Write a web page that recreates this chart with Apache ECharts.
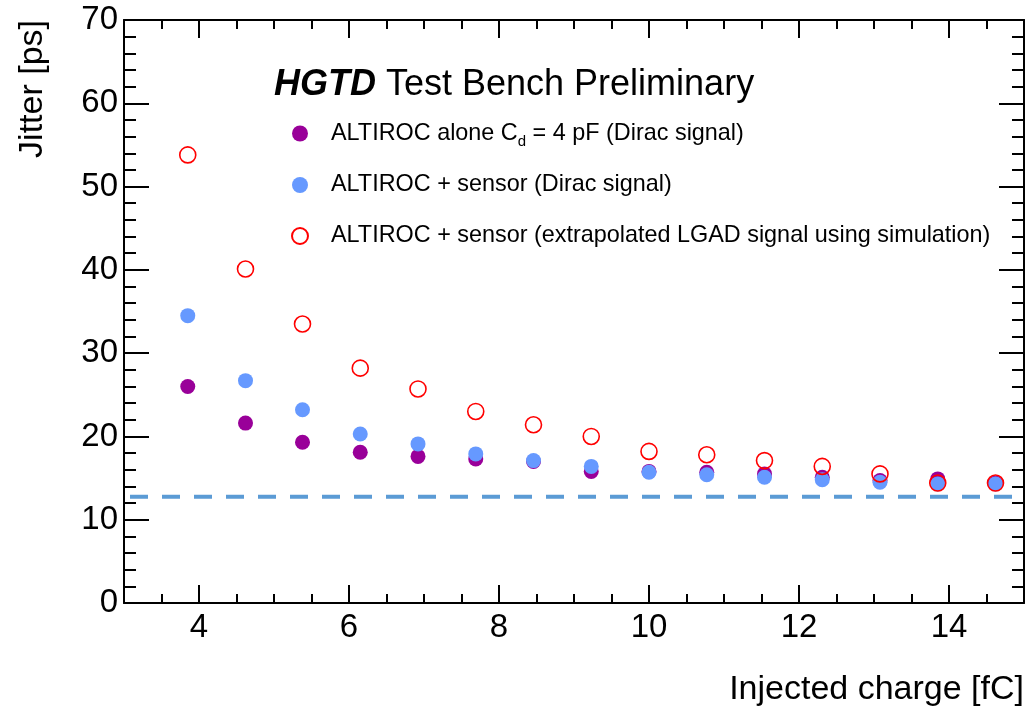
<!DOCTYPE html>
<html>
<head>
<meta charset="utf-8">
<script src="https://cdn.jsdelivr.net/npm/echarts@6/dist/echarts.min.js"></script>
<style>
html,body{margin:0;padding:0;background:#fff;}
#chart{width:1027px;height:707px;}
</style>
</head>
<body>
<div id="chart"></div>
<script>
// ---- data ----
const charge = [3.85, 4.62, 5.38, 6.15, 6.92, 7.69, 8.46, 9.23, 10.0, 10.77, 11.54, 12.31, 13.08, 13.85, 14.62];
const aloneJitter = [26.0, 21.6, 19.3, 18.1, 17.6, 17.3, 17.0, 15.8, 15.8, 15.7, 15.5, 15.1, 14.7, 14.9, 14.4];
const sensorJitter = [34.5, 26.7, 23.2, 20.3, 19.1, 17.9, 17.1, 16.4, 15.7, 15.4, 15.1, 14.8, 14.5, 14.3, 14.3];
const lgadJitter = [53.8, 40.1, 33.5, 28.2, 25.7, 23.0, 21.4, 20.0, 18.2, 17.8, 17.1, 16.4, 15.5, 14.4, 14.4];
const refLineX = [3.08, 14.9];
const refLineY = [12.75, 12.75];
const seriesNames = [
  'ALTIROC alone C_d = 4 pF (Dirac signal)',
  'ALTIROC + sensor (Dirac signal)',
  'ALTIROC + sensor (extrapolated LGAD signal using simulation)'
];
const xMajorTicks = [4, 6, 8, 10, 12, 14];
const xLabels = [4, 6, 8, 10, 12, 14];

const FONT = '"Liberation Sans", Arial, Helvetica, sans-serif';
const pair = (xs, ys) => xs.map((x, i) => [x, ys[i]]);

const chart = echarts.init(document.getElementById('chart'), null, {renderer: 'canvas'});

const axLine = {show: true, lineStyle: {color: '#000', width: 2}};
const baseX = {
  type: 'value', min: 3, max: 15, gridIndex: 0,
  splitLine: {show: false}
};
const baseY = {
  type: 'value', min: 0, max: 70, interval: 10, gridIndex: 0,
  splitLine: {show: false},
  axisLine: axLine,
  axisTick: {show: true, inside: true, length: 25, lineStyle: {color: '#000', width: 2}},
  minorTick: {show: true, splitNumber: 5, length: 12, lineStyle: {color: '#000', width: 2}}
};

const option = {
  backgroundColor: '#fff',
  animation: false,
  grid: {left: 124, top: 20, width: 902, height: 583, containLabel: false},
  title: {
    left: 269, top: 62,
    text: '{b|HGTD}{r| Test Bench Preliminary}',
    textStyle: {
      fontWeight: 'normal',
      rich: {
        b: {fontFamily: FONT, fontSize: 36, fontWeight: 'bold', fontStyle: 'italic', color: '#000'},
        r: {fontFamily: FONT, fontSize: 36, fontWeight: 'normal', color: '#000'}
      }
    }
  },
  legend: {
    orient: 'vertical', left: 286, top: 113,
    itemWidth: 16, itemHeight: 16, itemGap: 21,
    data: seriesNames,
    formatter: (name) => name.replace('C_d', 'C{sub|d}'),
    textStyle: {
      fontFamily: FONT, fontSize: 23.4, color: '#000', lineHeight: 30, padding: [0, 0, 0, 18],
      rich: {
        sub: {fontFamily: FONT, fontSize: 15, color: '#000', lineHeight: 30, padding: [16, 0, 0, 0]}
      }
    }
  },
  xAxis: [
    Object.assign({}, baseX, {
      position: 'bottom', interval: 0.5,
      axisLine: axLine,
      axisTick: {show: true, inside: true, length: 9, lineStyle: {color: '#000', width: 2}},
      axisLabel: {show: true, customValues: xLabels, fontFamily: FONT, fontSize: 33, color: '#000', margin: 8},
      name: 'Injected charge [fC]', nameLocation: 'end', nameGap: 0,
      nameTextStyle: {fontFamily: FONT, fontSize: 34, color: '#000', align: 'right', verticalAlign: 'top', padding: [70, 0, 0, 0]}
    }),
    Object.assign({}, baseX, {
      position: 'bottom',
      axisLine: {show: false},
      axisTick: {show: true, inside: true, length: 18, customValues: xMajorTicks, lineStyle: {color: '#000', width: 2}},
      axisLabel: {show: false}
    }),
    Object.assign({}, baseX, {
      position: 'top', interval: 0.5,
      axisLine: axLine,
      axisTick: {show: true, inside: true, length: 9, lineStyle: {color: '#000', width: 2}},
      axisLabel: {show: false}
    }),
    Object.assign({}, baseX, {
      position: 'top',
      axisLine: {show: false},
      axisTick: {show: true, inside: true, length: 18, customValues: xMajorTicks, lineStyle: {color: '#000', width: 2}},
      axisLabel: {show: false}
    })
  ],
  yAxis: [
    Object.assign({}, baseY, {
      position: 'left',
      axisLabel: {show: true, fontFamily: FONT, fontSize: 33, color: '#000', margin: 6}
    }),
    Object.assign({}, baseY, {
      position: 'right',
      axisLabel: {show: false}
    })
  ],
  graphic: [
    {
      type: 'text', x: 33, y: 20, rotation: Math.PI / 2,
      style: {text: 'Jitter [ps]', font: '34px ' + FONT, fill: '#000', align: 'right', verticalAlign: 'middle'}
    }
  ],
  series: [
    {
      type: 'line', name: 'ref', xAxisIndex: 0, yAxisIndex: 0,
      data: pair(refLineX, refLineY), showSymbol: false, silent: true,
      lineStyle: {color: '#5b9bd5', width: 4, type: [18, 14]}, z: 1
    },
    {
      type: 'scatter', name: seriesNames[0], xAxisIndex: 0, yAxisIndex: 0,
      data: pair(charge, aloneJitter), symbol: 'circle', symbolSize: 15,
      itemStyle: {color: '#990099', opacity: 1}, z: 2
    },
    {
      type: 'scatter', name: seriesNames[1], xAxisIndex: 0, yAxisIndex: 0,
      data: pair(charge, sensorJitter), symbol: 'circle', symbolSize: 15,
      itemStyle: {color: '#6699ff', opacity: 1}, z: 3
    },
    {
      type: 'scatter', name: seriesNames[2], xAxisIndex: 0, yAxisIndex: 0,
      data: pair(charge, lgadJitter), symbol: 'circle', symbolSize: 16,
      itemStyle: {color: 'rgba(255,255,255,0)', borderColor: '#ff0000', borderWidth: 1.6, opacity: 1}, z: 4
    }
  ]
};
chart.setOption(option);
</script>
</body>
</html>
